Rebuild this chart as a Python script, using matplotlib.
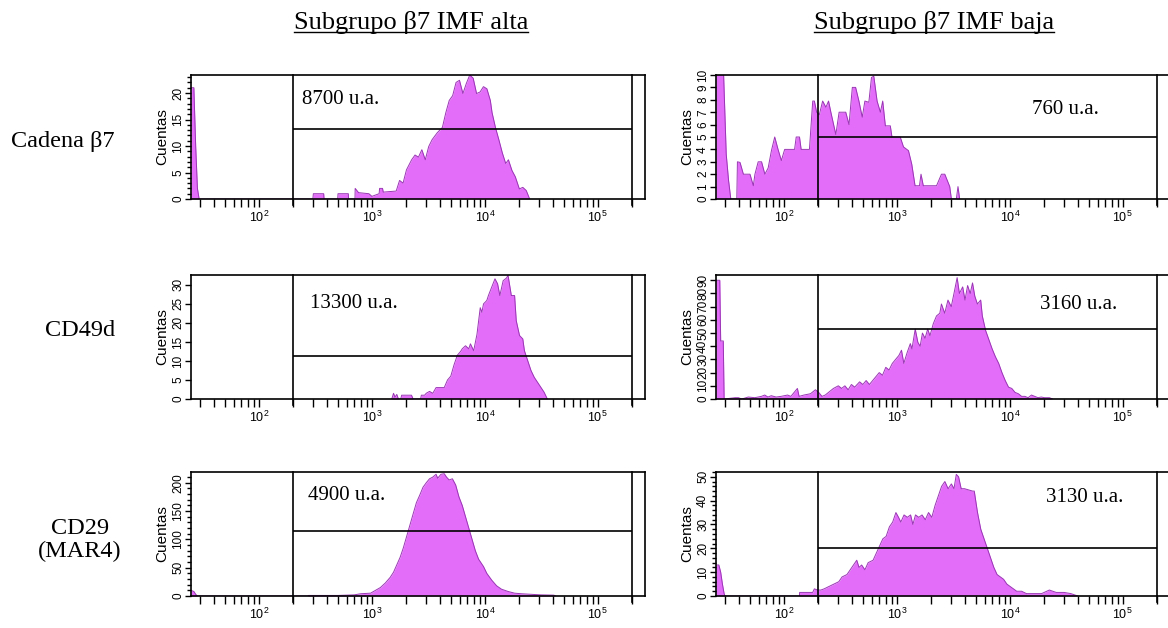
import matplotlib
matplotlib.use("Agg")
import matplotlib.pyplot as plt
from matplotlib.ticker import MultipleLocator, NullLocator
from matplotlib.lines import Line2D

# ==========================================
# datos leidos del histograma (intensidad, cuentas)
# ==========================================
col_titles = ["Subgrupo β7 IMF alta", "Subgrupo β7 IMF baja"]
row_labels = ["Cadena β7", "CD49d", "CD29\n(MAR4)"]
mfi_labels = ["8700 u.a.", "760 u.a.", "13300 u.a.", "3160 u.a.", "4900 u.a.", "3130 u.a."]

# Cadena b7 - IMF alta
b7_alta_x = [25, 26.5, 27.5, 28.5, 29.5, 300, 303, 374, 377, 498,
             501, 618, 621, 708, 711, 762, 940, 1000, 1159, 1170,
             1242, 1260, 1641, 1758, 1888, 2023, 2248, 2410, 2583, 2769,
             2969, 3184, 3413, 3791, 4209, 4515, 4840, 5188, 5563, 5965,
             6397, 6858, 7355, 7886, 8453, 9078, 9726, 10430, 11190, 11590,
             12420, 13310, 14290, 15310, 16180, 17380, 18620, 20230, 21690, 23280,
             24950]
b7_alta_y = [21, 21, 10, 2, 0, 0, 1, 1, 0, 0,
             1, 1, 0, 0, 2, 1.2, 1, 0.5, 1, 2,
             2, 1.3, 1.5, 3.5, 3, 5.5, 7.4, 8.3, 7.9, 9.3,
             7.4, 9.9, 11.2, 12.5, 13.5, 16.3, 18.6, 19.5, 22, 22.4,
             19.9, 21.8, 23.4, 22.8, 19.9, 20.2, 21.2, 20.8, 18.6, 16.3,
             13.5, 11.2, 8.7, 6.7, 7.4, 5.4, 4.2, 1.9, 2.2, 1.6,
             0]

# Cadena b7 - IMF baja
b7_baja_x = [25, 29.2, 30.8, 32.3, 33.8, 38.2, 38.7, 40.8, 43.7, 50.0,
             53.5, 55.3, 59.1, 63.3, 67.7, 72.4, 77.4, 82.8, 88.6, 94.8,
             101.4, 124.1, 128.3, 137.2, 141.9, 168.0, 179.7, 185.8, 194.8, 205.6,
             219.9, 235.1, 248.1, 260.1, 287.8, 307.8, 352.3, 376.7, 403.0, 430.9,
             460.9, 493.2, 520.5, 564.2, 595.4, 624.2, 667.6, 714.2, 748.7, 790.2,
             874.2, 903.9, 1070, 1144, 1266, 1354, 1448, 1584, 1635, 1713,
             2244, 2481, 2655, 2937, 3037, 3360, 3475, 3594]
b7_baja_y = [10, 10, 3.6, 1.5, 0, 0, 3, 2.95, 2, 2,
             1.07, 2, 3, 3, 2, 2.5, 3.9, 5, 4, 3.1,
             4, 4, 5, 5, 4, 4, 7.9, 7.9, 7, 6.8,
             7.9, 7.4, 7.9, 7, 5.2, 7, 7, 6, 9, 9,
             7.9, 6.6, 7.9, 7.8, 9.8, 9.9, 7.9, 7, 7.9, 5.9,
             5.9, 5, 5, 4.2, 3.9, 2.8, 1.07, 1.07, 2, 1.07,
             1.07, 2, 2, 1, 0, 0, 1, 0]

# CD49d - IMF alta
cd49_alta_x = [1500, 1554, 1600, 1661, 1717, 1800, 1835, 2242, 2318, 2700,
               2740, 2929, 3028, 3237, 3460, 3700, 4370, 4672, 4994, 5339,
               5707, 6101, 6310, 6745, 7211, 7455, 7969, 8520, 9109, 9416,
               9736, 10410, 10760, 11500, 12300, 12970, 13590, 14530, 15540, 16060,
               17170, 18350, 18980, 20290, 21690, 22420, 23970, 25630, 27400, 29290,
               31310, 33470, 35780]
cd49_alta_y = [0, 1.5, 0.5, 1.2, 0, 0, 1, 1, 0, 0,
               1, 1, 1.5, 2, 1.5, 3, 3, 5, 6, 9,
               11.5, 12.5, 13.2, 14, 13.2, 14.5, 12.7, 17, 24, 22.8,
               25, 25.9, 27.2, 29.4, 31.6, 30.3, 27.2, 31.1, 31.8, 32.5,
               27.2, 27.2, 20.6, 16.7, 15.8, 12.7, 10.1, 7.5, 5.7, 4.4,
               3.1, 1.8, 0]

# CD49d - IMF baja
cd49_baja_x = [25, 27, 27.5, 29, 29.5, 37.0, 39.5, 42.3, 48.3, 55.2,
               63.1, 67.5, 72.1, 77.1, 85.2, 94.2, 107.6, 115.1, 123.0, 131.5,
               136.0, 150.2, 171.7, 189.8, 202.9, 216.9, 231.9, 247.9, 274.0, 302.9,
               323.7, 346.1, 370.0, 395.5, 422.8, 467.3, 499.5, 534.0, 570.9, 610.3,
               652.4, 697.5, 745.6, 797.0, 852.1, 910.9, 973.7, 1041, 1098, 1151,
               1230, 1315, 1359, 1453, 1533, 1606, 1683, 1775, 1873, 1963,
               2098, 2243, 2398, 2479, 2651, 2833, 3029, 3237, 3415, 3577,
               3824, 4009, 4228, 4459, 4673, 4896, 5164, 5521, 5707, 6102,
               6523, 6974, 7456, 7969, 8520, 9109, 9737, 10410, 11130, 11900,
               12720, 13590, 14530, 15540, 16610, 17760, 18980, 20290, 22420, 23970]
cd49_baja_y = [90, 90, 44, 44, 0, 1, 1, 0, 1.5, 1,
               2, 3, 1.5, 2.5, 1.5, 2, 3, 2, 5, 8,
               2, 3, 4, 7, 5, 2, 3, 5, 8, 10,
               8, 10, 7, 11, 9, 13, 11, 14, 11, 14,
               17, 20, 18, 24, 22, 27, 30, 33, 37, 27,
               35, 42, 38, 53, 43, 40, 50, 46, 53, 48,
               57, 63, 65, 72, 65, 75, 70, 82, 92, 80,
               85, 75, 86, 80, 88, 78, 72, 75, 63, 52,
               45, 38, 32, 27, 20, 14, 9, 8, 5, 4,
               2, 2, 1, 3, 2, 1, 1.5, 1, 1, 0]

# CD29 - IMF alta
cd29_alta_x = [25, 26.5, 27.5, 28.5, 270, 274, 334.6, 499.5, 697.5, 797.0,
               973.7, 1076, 1190, 1315, 1453, 1554, 1661, 1775, 1898, 2029,
               2169, 2318, 2479, 2651, 2833, 3029, 3237, 3460, 3700, 3824,
               4089, 4371, 4580, 4831, 5164, 5521, 5902, 6310, 6745, 7211,
               7709, 8242, 8810, 9737, 10410, 11510, 12720, 14060, 16060, 18360,
               20980, 25630, 31310, 40890, 42280]
cd29_alta_y = [10, 8, 3, 0, 0, 1, 1, 1, 2, 4,
               5, 10, 15, 23, 33, 42, 55, 68, 85, 105,
               125, 145, 165, 178, 192, 200, 207, 210, 215, 208,
               215, 216, 210, 205, 207, 196, 175, 160, 140, 120,
               100, 80, 65, 52, 40, 28, 18, 12, 8, 5,
               4, 3, 2, 1.5, 0]

# CD29 - IMF baja
cd29_baja_x = [25, 26.5, 27.5, 28.5, 29.5, 30, 137, 137.6, 179.6, 185.7,
               198.5, 212.1, 226.7, 250.4, 276.8, 305.8, 326.8, 361.2, 386.1, 412.5,
               441.0, 461.9, 487.2, 520.7, 556.6, 615.1, 657.5, 702.7, 751.0, 802.7,
               858.0, 917.0, 980.0, 1034, 1083, 1157, 1237, 1322, 1385, 1461,
               1562, 1669, 1784, 1906, 2038, 2178, 2328, 2488, 2659, 2842,
               3037, 3203, 3357, 3516, 3709, 3964, 4682, 4842, 5175, 5531,
               5911, 6318, 6752, 7216, 7712, 8243, 8810, 9416, 10060, 10760,
               11500, 12710, 14040, 15630, 19100, 22390, 25760, 30200, 34750, 39990]
cd29_baja_y = [13, 13, 10, 5, 1, 0, 0, 1.5, 1.5, 3,
               2.5, 2.5, 3, 4, 5, 6, 8, 9, 11, 13,
               15, 12, 13, 11, 14, 15, 18, 21, 24, 25,
               29, 31, 35, 33, 31, 34, 33, 34, 30, 34,
               33, 34, 32, 35, 33, 38, 42, 46, 48, 45,
               47, 45, 51, 50, 45, 45, 44, 44, 35, 28,
               24, 20, 16, 12, 9, 8, 7, 5, 4, 3,
               2, 2, 1, 1, 1, 2.5, 1.5, 1.5, 1, 0]

# limites de eje y, marcador (altura) y ticks
y_max = [23.4, 10, 32.6, 94, 219, 52]
gate_y = [13.3, 5, 11.3, 52.7, 115, 20]
y_major = [5, 1, 5, 10, 50, 10]
y_minor = [1, None, None, None, 10, 2]
GATE = (200, 200000)
XLIM = (25, 262144)

hists = [(b7_alta_x, b7_alta_y), (b7_baja_x, b7_baja_y),
         (cd49_alta_x, cd49_alta_y), (cd49_baja_x, cd49_baja_y),
         (cd29_alta_x, cd29_alta_y), (cd29_baja_x, cd29_baja_y)]

# ==========================================
# figura
# ==========================================
W, H = 1168, 628
fig = plt.figure(figsize=(W / 100, H / 100), dpi=100)
SERIF = ["Liberation Serif", "DejaVu Serif"]
SANS = ["Liberation Sans", "DejaVu Sans"]
plt.rcParams["font.family"] = SANS

FILL = "#E36CF8"
EDGE = "#9A35B5"

col_left = [191, 716]
row_top = [75, 275, 472]
AX_W, AX_H = 454, 124

axes = []
for r in range(3):
    for c in range(2):
        i = r * 2 + c
        x0 = col_left[c] / W
        y0 = 1 - (row_top[r] + AX_H) / H
        ax = fig.add_axes([x0, y0, AX_W / W, AX_H / H])
        axes.append(ax)

        hx, hy = hists[i]
        ax.fill_between(hx, hy, 0, color=FILL, lw=0, zorder=1)
        ax.plot(hx, hy, color=EDGE, lw=0.7, zorder=2)

        # marcador del histograma
        ax.hlines(gate_y[i], GATE[0], GATE[1], color="black", lw=1.2, zorder=3)
        for gx in GATE:
            ax.plot([gx, gx], [-0.05, 1], color="black", lw=1.2,
                    transform=ax.get_xaxis_transform(), clip_on=False, zorder=3)

        ax.set_xscale("log")
        ax.set_xlim(*XLIM)
        ax.set_ylim(0, y_max[i])
        ax.yaxis.set_major_locator(MultipleLocator(y_major[i]))
        if y_minor[i]:
            ax.yaxis.set_minor_locator(MultipleLocator(y_minor[i]))
        else:
            ax.yaxis.set_minor_locator(NullLocator())

        for s in ax.spines.values():
            s.set_linewidth(1.2)
        ax.tick_params(axis="y", which="major", length=4, width=1, labelsize=8.5,
                       labelrotation=90, pad=1)
        ax.tick_params(axis="y", which="minor", length=3, width=1)
        ax.tick_params(axis="x", which="major", length=6, width=1, labelsize=9, pad=2)
        ax.tick_params(axis="x", which="minor", length=6, width=1, labelbottom=False)
        for lbl in ax.get_yticklabels():
            lbl.set_verticalalignment("center")
        ax.set_ylabel("Cuentas", fontsize=11, labelpad=2)

# textos de IMF dentro de cada panel
mfi_pos = [(302, 100), (1032, 110), (310, 304), (1040, 305), (308, 495), (1046, 497)]
for txt, (px, py) in zip(mfi_labels, mfi_pos):
    fig.text(px / W, 1 - py / H, txt, family=SERIF, fontsize=15,
             ha="left", va="center")

# etiquetas de fila
row_pos = [(63, 141), (80, 330), (80, 540)]
for txt, (px, py) in zip(row_labels, row_pos):
    fig.text(px / W, 1 - py / H, txt, family=SERIF, fontsize=17.5,
             ha="center", va="center", linespacing=1.1)

# titulos de columna subrayados
title_pos = [(411, 22), (934, 22)]
titles = []
for txt, (px, py) in zip(col_titles, title_pos):
    titles.append(fig.text(px / W, 1 - py / H, txt, family=SERIF, fontsize=19,
                           ha="center", va="center"))

fig.canvas.draw()
inv = fig.transFigure.inverted()
for t in titles:
    bb = t.get_window_extent()
    (x0, y0), (x1, _) = inv.transform([(bb.x0, bb.y0 + 1), (bb.x1, bb.y0 + 1)])
    fig.add_artist(Line2D([x0, x1], [y0, y0], color="black", lw=1,
                          transform=fig.transFigure))

fig.savefig("out.png", dpi=100)
